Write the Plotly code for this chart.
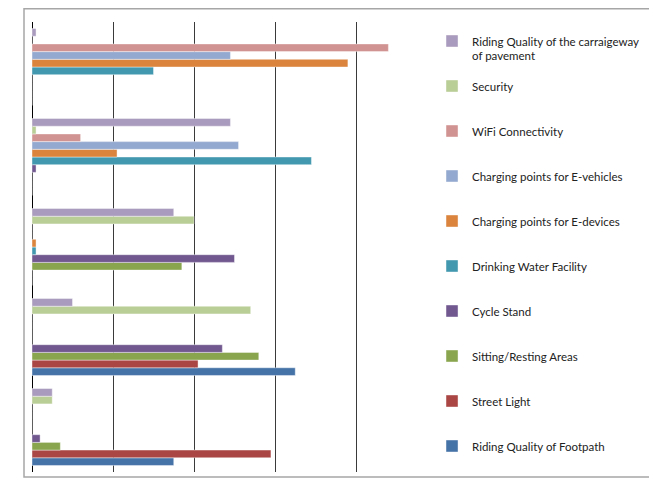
import plotly.graph_objects as go

categories = ["C5", "C4", "C3", "C2", "C1"]  # bottom to top

series_names = [
    "Riding Quality of Footpath",
    "Street Light",
    "Sitting/Resting Areas",
    "Cycle Stand",
    "Drinking Water Facility",
    "Charging points for E-devices",
    "Charging points for E-vehicles",
    "WiFi Connectivity",
    "Security",
    "Riding Quality of the carraigeway",
]
name_continuation = "of pavement"  # second line of the last legend entry
colors = ["#4572A7", "#AA4643", "#89A54E", "#71588F", "#4198AF",
          "#DB843D", "#93A9CF", "#D19392", "#B9CD96", "#A99BBD"]

# values per series, ordered as categories (bottom cluster first)
footpath     = [17.5, 32.5, 0, 0, 0]
street_light = [29.5, 20.5, 0, 0, 0]
sitting      = [3.5, 28.0, 18.5, 0, 0]
cycle_stand  = [1.0, 23.5, 25.0, 0.5, 0]
drinking     = [0, 0, 0.5, 34.5, 15.0]
e_devices    = [0, 0, 0.5, 10.5, 39.0]
e_vehicles   = [0, 0, 0, 25.5, 24.5]
wifi         = [0, 0, 0, 6.0, 44.0]
security     = [2.5, 27.0, 20.0, 0.5, 0]
carriageway  = [2.5, 5.0, 17.5, 24.5, 0.5]

all_values = [footpath, street_light, sitting, cycle_stand, drinking,
              e_devices, e_vehicles, wifi, security, carriageway]

fig = go.Figure()
n = len(series_names)
for i, (name, vals, col) in enumerate(zip(series_names, all_values, colors)):
    fig.add_trace(go.Bar(
        y=categories, x=vals, name=name, orientation="h",
        marker=dict(color=col, line=dict(color="rgba(255,255,255,0.7)", width=0.6)),
        legendgroup=f"g{i}", legendrank=n - i,
    ))

font_family = "Lato, Carlito, Calibri, sans-serif"

# page body has an 8px margin; plot area (figure coords) 24..429 x 14..464
PL, PT, PW, PH = 24, 14, 405, 450

fig.update_layout(
    width=657, height=488,
    margin=dict(l=PL, r=657 - PL - PW, t=PT, b=488 - PT - PH, autoexpand=False),
    barmode="group", bargap=0.145, bargroupgap=0,
    plot_bgcolor="white", paper_bgcolor="white",
    font=dict(family=font_family, size=11.5, color="#222"),
    showlegend=True,
    legend=dict(
        x=0.9877, xanchor="left", y=0.990, yanchor="top",
        traceorder="grouped", tracegroupgap=26,
        font=dict(size=11.5), bgcolor="rgba(0,0,0,0)",
    ),
    xaxis=dict(range=[0, 50], dtick=10, showgrid=True, gridcolor="#3a3a3a",
               gridwidth=1, showticklabels=False, zeroline=True,
               zerolinecolor="#000", zerolinewidth=1, showline=False,
               ticks=""),
    yaxis=dict(showticklabels=False, showgrid=False, showline=False,
               ticks="", categoryorder="array", categoryarray=categories),
    shapes=[dict(type="rect", xref="paper", yref="paper",
                 x0=(16 - PL) / PW, x1=(642 - PL) / PW,
                 y0=(PT + PH - 469) / PH, y1=1 + (PT - 0.75) / PH,
                 line=dict(color="#A6A6A6", width=1.5), fillcolor="rgba(0,0,0,0)")],
    annotations=[dict(text=name_continuation, xref="paper", yref="paper",
                      x=(462 - PL) / PW, y=1 - (47 - PT) / PH,
                      xanchor="left", yanchor="middle", showarrow=False,
                      font=dict(family=font_family, size=11.5, color="#222"))],
)

fig.write_html("out.html")
